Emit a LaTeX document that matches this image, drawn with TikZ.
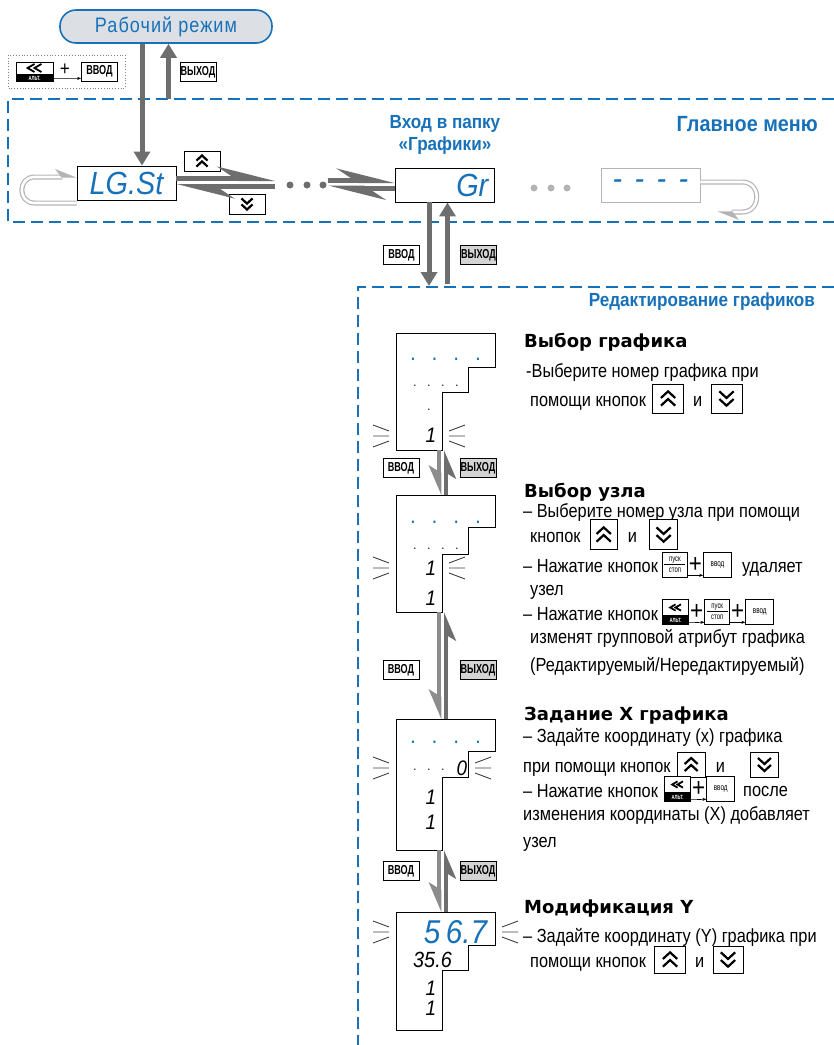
\documentclass[tikz,border=0pt]{standalone}
\usepackage{fontspec}
\setmainfont{Liberation Sans}[FakeStretch=0.86]
\newfontfamily\headfont{DejaVu Sans}
\newfontfamily\titlefont{Liberation Sans}[FakeStretch=0.9]
\newfontfamily\keyfont{Liberation Sans}[FakeStretch=0.7]
\newfontfamily\lcdfont{Liberation Sans}[FakeStretch=0.9]
\newfontfamily\pillfont{Liberation Sans}[FakeStretch=0.86, LetterSpace=5]
\usetikzlibrary{positioning,arrows.meta,calc}
\definecolor{menublue}{HTML}{1771B9}
\definecolor{arrowgray}{HTML}{6E6E6E}
\definecolor{lightarrow}{HTML}{8C8C8C}
\definecolor{loopgray}{HTML}{B4B4B4}
\definecolor{pillgray}{HTML}{DCE0E5}
\definecolor{keyfill}{HTML}{D4D4D4}
\tikzset{
  frame/.style={menublue, line width=1.8pt, dash pattern=on 12pt off 6pt},
  pill/.style={draw=menublue, line width=1.6pt, fill=pillgray, rounded corners=16pt, minimum width=212pt, minimum height=33pt, text=menublue, font=\pillfont\fontsize{21}{21}\selectfont},
  lcd/.style={draw=black, line width=0.9pt, fill=white, minimum width=99pt, minimum height=34pt, inner sep=0pt, text=menublue, font=\lcdfont\itshape\fontsize{32}{32}\selectfont},
  lcdtext/.style={text=menublue, inner sep=0pt, font=\lcdfont\itshape\fontsize{32}{32}\selectfont},
  lcdframe/.style={draw=black, line width=0.9pt},
  digit/.style={inner sep=0pt, font=\lcdfont\itshape\fontsize{21}{21}\selectfont},
  bluedots/.style={inner sep=0pt, text=menublue, font=\bfseries\fontsize{16}{16}\selectfont},
  blackdots/.style={inner sep=0pt, font=\fontsize{13}{13}\selectfont},
  ray/.style={draw=black!75, line width=0.9pt},
  key/.style={draw=black, line width=0.8pt, fill=white, font=\keyfont\bfseries\fontsize{13}{13}\selectfont, inner sep=0pt, minimum width=36pt, minimum height=19pt},
  exitkey/.style={key, fill=keyfill},
  smallkey/.style={draw=black, line width=0.6pt, fill=white, font=\keyfont\fontsize{9}{9}\selectfont, inner sep=0pt, minimum width=28pt, minimum height=25pt},
  startkey/.style={smallkey, minimum width=25pt, align=center, font=\keyfont\fontsize{8.5}{11}\selectfont, path picture={\draw[line width=0.6pt] ([xshift=2pt]path picture bounding box.west) -- ([xshift=-2pt]path picture bounding box.east);}},
  chev/.style={line width=2.2pt, line join=miter},
  upkey/.style={draw=black, line width=0.9pt, fill=white, inner sep=0pt, minimum width=29pt, minimum height=28pt, path picture={\draw[chev, shift={(path picture bounding box.center)}, x=#1pt, y=-#1pt] (-6.5,-0.5) -- (0,-6.5) -- (6.5,-0.5) (-6.5,6.5) -- (0,0.5) -- (6.5,6.5);}},
  upkey/.default=1.1,
  downkey/.style={draw=black, line width=0.9pt, fill=white, inner sep=0pt, minimum width=29pt, minimum height=28pt, path picture={\draw[chev, shift={(path picture bounding box.center)}, x=#1pt, y=-#1pt] (-6.5,-6.5) -- (0,-0.5) -- (6.5,-6.5) (-6.5,0.5) -- (0,6.5) -- (6.5,0.5);}},
  downkey/.default=1.1,
  altup/.style={draw=black, line width=0.8pt, fill=white, inner sep=0pt, path picture={\draw[chev, line width=1.8pt, shift={(path picture bounding box.center)}, x=#1pt, y=-#1pt] (0,-3.5) -- (-6,0) -- (0,3.5) (6,-3.5) -- (0,0) -- (6,3.5);}},
  altup/.default=0.9,
  altband/.style={draw=black, line width=0.8pt, fill=black, text=white, inner sep=0pt, font=\keyfont\bfseries\fontsize{6}{6}\selectfont},
  plus/.style={inner sep=0pt, font=\fontsize{26}{26}\selectfont},
  plusarr/.style={line width=0.6pt, -{Stealth[length=4pt, width=3pt]}},
  txt/.style={anchor=base west, inner sep=0pt, text height=17pt, text depth=2pt, font=\fontsize{19}{22}\selectfont},
  head/.style={anchor=base west, inner sep=0pt, font=\headfont\bfseries\fontsize{18}{20}\selectfont},
  bluehead/.style={inner sep=0pt, text=menublue, font=\titlefont\bfseries\fontsize{19}{22}\selectfont},
  dot/.style={circle, fill=arrowgray, inner sep=0pt, minimum size=7pt},
  bigarrow/.style={draw=arrowgray, line width=5pt, -{Triangle[length=14pt, width=16pt]}},
  harpoonarr/.style={draw=arrowgray, line width=5pt, -{Stealth[harpoon, length=48pt, width=24pt, inset=18pt]}},
  downbar/.style={draw=lightarrow, line width=4.5pt, -{Stealth[harpoon, swap, length=24pt, width=20pt, inset=6pt]}},
  upbar/.style={draw=arrowgray, line width=4pt, -{Stealth[harpoon, swap, length=24pt, width=20pt, inset=6pt]}},
  loopline/.style={draw=loopgray, line width=1.2pt, double=white, double distance=2.6pt, -{Stealth[harpoon, length=20pt, width=16pt, inset=6pt]}}}

% L-shaped display: name, x, y of top left corner, heights of the three parts
\newcommand{\lcdshape}[6]{%
  \coordinate (#1) at (#2,#3);
  \draw[lcdframe] (#1) -- ++(99,0) -- ++(0,#4) -- ++(-27,0) -- ++(0,#5) -- ++(-26,0) -- ++(0,#6) -- ++(-46,0) -- cycle;
  \coordinate (#1-bot) at ($(#1)+(46,#4+#5+#6)$);}
% blinking marks beside a display row
\newcommand{\lcdrays}[2]{%
  \draw[ray] ($(#1)+(#2*7,-5)$) -- ++(#2*16,-6) ($(#1)+(#2*7,0)$) -- ++(#2*16,0) ($(#1)+(#2*7,5)$) -- ++(#2*16,6);}

\begin{document}
\begin{tikzpicture}[x=1pt, y=-1pt, node distance=5pt]
\useasboundingbox (0,0) rectangle (834,1045);

% frames
\draw[frame] (834,99) -- (8,99) -- (8,222) -- (834,222);
\draw[frame] (834,287) -- (358,287) -- (358,1045);

% working mode and entry keys
\node[pill] (work) at (166,26.5) {Рабочий режим};
\draw[gray, dotted, line width=0.8pt] (8,55) rectangle (125,88);
\node[altup=1.15, minimum width=37pt, minimum height=12pt] (alt0) at (34.5,68) {};
\node[altband, minimum width=37pt, minimum height=7pt, below=0pt of alt0] (alt0b) {АЛЬТ.};
\node[plus, font=\fontsize{20}{20}\selectfont] (plus0) at (65,70) {+};
\node[key] (enter0) at (99.5,71.5) {ВВОД};
\draw[plusarr] (alt0b.east) -- ([yshift=3pt]enter0.south west);
\node[key] (exit0) at (198,72) {ВЫХОД};

% main menu
\node[lcd] (lgst) at (126.5,183) {LG.St};
\node[lcd] (gr) at (444.5,185) {};
\node[lcdtext, anchor=east] (grtext) at ([xshift=-6pt]gr.east) {Gr};
\node[lcd, draw=loopgray] (blank) at (650.5,185) {\raisebox{-4pt}{-\hspace{12.4pt}-\hspace{12.4pt}-\hspace{12.4pt}-}};
\node[bluehead, align=center] (grtitle) at (445,135) {Вход в папку\\«Графики»};
\node[bluehead, anchor=east, font=\titlefont\bfseries\fontsize{22}{24}\selectfont] (menutitle) at (818,124) {Главное меню};

\draw[bigarrow] ([xshift=-24pt]work.south) -- ([xshift=-24pt]work.south |- lgst.north);
\coordinate (menutop) at (168.5,99);
\draw[bigarrow] (menutop) -- (menutop |- work.south);

\node[upkey=0.85, minimum width=36pt, minimum height=20pt] (up0) at (202,161) {};
\node[downkey=0.85, minimum width=36pt, minimum height=20pt] (down0) at (247,204) {};

\coordinate (dotsL) at (275,183);
\draw[harpoonarr] ([yshift=4.5pt]lgst.east) -- ([yshift=4.5pt]dotsL);
\draw[harpoonarr] ([yshift=-3.5pt]dotsL) -- ([yshift=-3.5pt]lgst.east);
\foreach \x [count=\i] in {290,307,323}
  \node[dot] (dot\i) at (\x,185) {};
\coordinate (dotsR) at (328,185);
\draw[harpoonarr] ([yshift=4.5pt]dotsR) -- ([yshift=4.5pt]gr.west);
\draw[harpoonarr] ([yshift=-3pt]gr.west) -- ([yshift=-3pt]dotsR);
\foreach \x [count=\i] in {534,551,567}
  \node[dot, fill=loopgray] (gdot\i) at (\x,188) {};

\draw[loopline] ([yshift=-20pt]lgst.west) -- ++(-42,0) .. controls +(-17,0) and +(-17,0) .. ++(0,-26) -- ([yshift=6pt]lgst.west);
\draw[loopline] ([yshift=3pt]blank.east) -- ++(42,0) .. controls +(19,0) and +(19,0) .. ++(0,30) -- ++(-25,0);

% into the charts folder
\coordinate (edittop) at (429,286);
\coordinate (editexit) at (447.5,284);
\draw[bigarrow] ([xshift=-15.5pt]gr.south) -- ([xshift=-15.5pt]gr.south |- edittop);
\draw[bigarrow] (editexit) -- (editexit |- gr.south);
\node[key] (enter1) at (401.5,255) {ВВОД};
\node[exitkey] (exit1) at (478.5,255) {ВЫХОД};
\node[bluehead, anchor=east] (edittitle) at (815,302) {Редактирование графиков};

% displays
\lcdshape{d1}{396}{333}{34}{25}{58}
\lcdshape{d2}{396}{495}{32}{27}{58}
\lcdshape{d3}{396}{719}{32}{26}{73}
\lcdshape{d4}{396}{912}{33}{25}{60}

\node[bluedots] (d1dots) at ($(d1)+(49.5,26)$) {.\hspace{17.9pt}.\hspace{17.9pt}.\hspace{17.9pt}.};
\node[blackdots] (d1pts) at ($(d1)+(40,53)$) {.\hspace{10.9pt}.\hspace{10.9pt}.\hspace{10.9pt}.};
\node[blackdots] (d1pt) at ($(d1)+(33,77)$) {.};
\node[digit] (d1one) at ($(d1)+(35,102)$) {1};
\lcdrays{396,436}{-1}
\lcdrays{442,436}{1}

\node[bluedots] (d2dots) at ($(d2)+(49.5,27)$) {.\hspace{17.9pt}.\hspace{17.9pt}.\hspace{17.9pt}.};
\node[blackdots] (d2pts) at ($(d2)+(40,54)$) {.\hspace{10.9pt}.\hspace{10.9pt}.\hspace{10.9pt}.};
\node[digit] (d2one) at ($(d2)+(35,73)$) {1};
\node[digit] (d2two) at ($(d2)+(35,103)$) {1};
\lcdrays{396,568}{-1}
\lcdrays{442,568}{1}

\node[bluedots] (d3dots) at ($(d3)+(49.5,23)$) {.\hspace{17.9pt}.\hspace{17.9pt}.\hspace{17.9pt}.};
\node[blackdots] (d3pts) at ($(d3)+(33,51)$) {.\hspace{10.9pt}.\hspace{10.9pt}.};
\node[digit] (d3zero) at ($(d3)+(66,49)$) {0};
\node[digit] (d3one) at ($(d3)+(35,78)$) {1};
\node[digit] (d3two) at ($(d3)+(35,103)$) {1};
\lcdrays{396,768}{-1}
\lcdrays{468,768}{1}

\node[lcdtext, font=\lcdfont\itshape\fontsize{33}{33}\selectfont] (d4val) at ($(d4)+(59.5,20)$) {5\,6.7};
\node[digit, font=\lcdfont\itshape\fontsize{22}{22}\selectfont] (d4prev) at ($(d4)+(36.5,48)$) {35.6};
\node[digit] (d4one) at ($(d4)+(35,76)$) {1};
\node[digit] (d4two) at ($(d4)+(35,96)$) {1};
\lcdrays{396,932}{-1}
\lcdrays{495,932}{1}

% arrows between displays
\draw[downbar] ([xshift=-3pt]d1-bot) -- ($(d2)+(43,0)$);
\draw[upbar] ($(d2)+(50,0)$) -- ([xshift=4pt]d1-bot);
\draw[downbar] ([xshift=-3pt]d2-bot) -- ($(d3)+(43,0)$);
\draw[upbar] ($(d3)+(50,0)$) -- ([xshift=4pt]d2-bot);
\draw[downbar] ([xshift=-3pt]d3-bot) -- ($(d4)+(43,0)$);
\draw[upbar] ($(d4)+(50,0)$) -- ([xshift=4pt]d3-bot);
\node[key] (enter2) at (401,468) {ВВОД};
\node[exitkey] (exit2) at (478,468) {ВЫХОД};
\node[key] (enter3) at (401,670) {ВВОД};
\node[exitkey] (exit3) at (478,670) {ВЫХОД};
\node[key] (enter4) at (401,871) {ВВОД};
\node[exitkey] (exit4) at (478,871) {ВЫХОД};

% chart choice
\node[head] (h1) at (524,347) {Выбор графика};
\node[txt] (t11) at (526,377) {-Выберите номер графика при};
\node[txt] (t12) at (530,406) {помощи кнопок};
\node[upkey, minimum width=31pt, minimum height=29pt, right=6pt of t12] (u1) {};
\node[txt, right=9pt of u1] (i1) {и};
\node[downkey, minimum width=31pt, minimum height=29pt, right=8pt of i1] (v1) {};

% node choice
\node[head] (h2) at (524,497) {Выбор узла};
\node[txt] (t21) at (523,517) {– Выберите номер узла при помощи};
\node[txt] (t22) at (530,542) {кнопок};
\node[upkey, minimum width=27pt, minimum height=30pt, right=9pt of t22] (u2) {};
\node[txt, right=10pt of u2] (i2) {и};
\node[downkey, minimum width=28pt, minimum height=30pt, right=12pt of i2] (v2) {};
\node[txt] (t23) at (523,572) {– Нажатие кнопок};
\node[startkey, right=4pt of t23] (s21) {пуск\\стоп};
\node[plus, right=1pt of s21] (p21) {+};
\node[smallkey, right=1pt of p21] (e21) {ввод};
\draw[plusarr] ([yshift=2pt]s21.south east) -- ([yshift=2pt]e21.south west);
\node[txt, right=10pt of e21] (t23b) {удаляет};
\node[txt] (t24) at (530,595) {узел};
\node[txt] (t25) at (523,620) {– Нажатие кнопок};
\node[altup, minimum width=26pt, minimum height=16pt, right=4pt of t25, yshift=5pt] (a21) {};
\node[altband, minimum width=26pt, minimum height=8pt, below=0pt of a21] (a21b) {АЛЬТ.};
\node[plus, right=1pt of a21, yshift=-4pt] (p22) {+};
\node[startkey, right=1pt of p22] (s22) {пуск\\стоп};
\node[plus, right=1pt of s22] (p23) {+};
\node[smallkey, right=1pt of p23] (e22) {ввод};
\draw[plusarr] ([yshift=2pt]a21b.south east) -- ([yshift=2pt]s22.south west);
\draw[plusarr] ([yshift=2pt]s22.south east) -- ([yshift=2pt]e22.south west);
\node[txt] (t26) at (530,643) {изменят групповой атрибут графика};
\node[txt] (t27) at (530,671) {(Редактируемый/Нередактируемый)};

% X of the chart
\node[head] (h3) at (524,720) {Задание X графика};
\node[txt] (t31) at (523,742) {– Задайте координату (x) графика};
\node[txt] (t32) at (523,772) {при помощи кнопок};
\node[upkey=1.0, minimum width=28pt, minimum height=25pt, right=6pt of t32] (u3) {};
\node[txt, right=10pt of u3] (i3) {и};
\node[downkey=1.0, minimum width=28pt, minimum height=25pt, anchor=west] (v3) at (750,764.5) {};
\node[txt] (t33) at (523,797) {– Нажатие кнопок};
\node[altup, minimum width=26pt, minimum height=16pt, right=6pt of t33, yshift=5pt] (a31) {};
\node[altband, minimum width=26pt, minimum height=8pt, below=0pt of a31] (a31b) {АЛЬТ.};
\node[plus, right=1pt of a31, yshift=-4pt] (p31) {+};
\node[smallkey, right=1pt of p31] (e31) {ввод};
\draw[plusarr] ([yshift=2pt]a31b.south east) -- ([yshift=2pt]e31.south west);
\node[txt, right=8pt of e31] (t33b) {после};
\node[txt] (t34) at (523,820) {изменения координаты (Х) добавляет};
\node[txt] (t35) at (523,847) {узел};

% Y modification
\node[head] (h4) at (524,913) {Модификация Y};
\node[txt] (t41) at (523,942) {– Задайте координату (Y) графика при};
\node[txt] (t42) at (530,967) {помощи кнопок};
\node[upkey, minimum width=31pt, minimum height=27pt, right=8pt of t42] (u4) {};
\node[txt, right=9pt of u4] (i4) {и};
\node[downkey, minimum width=30pt, minimum height=27pt, right=8pt of i4] (v4) {};
\end{tikzpicture}
\end{document}
